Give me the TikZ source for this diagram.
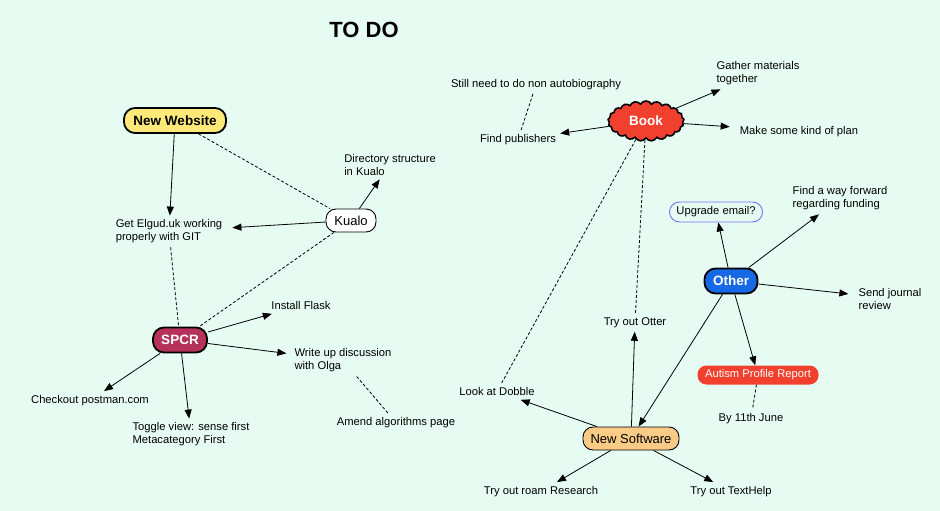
\documentclass[tikz,border=0pt]{standalone}
\usepackage{fontspec}
\setmainfont{Liberation Sans}
\usetikzlibrary{arrows.meta,shapes.symbols}
\definecolor{bg}{RGB}{230,252,243}
\definecolor{webyellow}{RGB}{253,233,120}
\definecolor{spcrred}{RGB}{181,50,90}
\definecolor{bookred}{RGB}{242,64,46}
\definecolor{otherblue}{RGB}{22,104,228}
\definecolor{softorange}{RGB}{250,203,135}
\definecolor{mailblue}{RGB}{120,110,240}
\tikzset{
  txt/.style={font=\fontsize{11.2}{13}\selectfont, align=left, inner sep=4pt, yshift=-1.5pt},
  hubbold/.style={rounded corners=11pt, draw=black, line width=1.8pt, font=\fontsize{13.5}{15}\selectfont\bfseries, inner xsep=8pt, inner ysep=5pt},
  hubplain/.style={rounded corners=10pt, draw=black, line width=0.9pt, font=\fontsize{13}{15}\selectfont, inner xsep=6pt, inner ysep=4pt},
  arr/.style={-{Triangle[length=9pt,width=7pt]}, line width=0.8pt, draw=black},
  dsh/.style={dash pattern=on 3pt off 2pt, line width=0.8pt, draw=black}
}
\begin{document}
\begin{tikzpicture}[x=1pt,y=-1pt]
\fill[bg] (0,0) rectangle (940,511);
\useasboundingbox (0,0) rectangle (940,511);

\node[font=\fontsize{22}{24}\selectfont\bfseries] (title) at (364,29.5) {TO DO};

% left cluster
\node[hubbold, fill=webyellow, minimum width=102pt, minimum height=25pt] (web) at (175,120.5) {New Website};
\node[txt] (elgud) at (169,230) {Get Elgud.uk working\\properly with GIT};
\node[hubplain, fill=white, minimum width=50pt, minimum height=23pt, inner xsep=5pt] (kualo) at (351,220.5) {Kualo};
\node[txt] (dir) at (390,163) {Directory structure\\in Kualo};
\node[hubbold, fill=spcrred, text=white, minimum width=54pt, minimum height=25pt] (spcr) at (180,340) {SPCR};
\node[txt] (flask) at (301,304) {Install Flask};
\node[txt] (olga) at (343,359) {Write up discussion\\with Olga};
\node[txt] (amend) at (396,421) {Amend algorithms page};
\node[txt] (postman) at (90,399) {Checkout postman.com};
\node[txt] (toggle) at (191,433) {Toggle view: sense first\\Metacategory First};

% book cluster
\node[txt] (still) at (536,83) {Still need to do non autobiography};
\node[txt] (pub) at (518,138) {Find publishers};
\node[cloud, cloud puffs=21, cloud puff arc=120, aspect=1.9, draw=black, line width=1.6pt, fill=bookred, text=white, font=\fontsize{13.5}{15}\selectfont\bfseries, minimum width=76pt, minimum height=40pt, inner sep=0pt] (book) at (646,121) {Book};
\node[txt] (gather) at (758,72) {Gather materials\\together};
\node[txt] (plan) at (799,130) {Make some kind of plan};

% other cluster
\node[rounded corners=10pt, draw=mailblue, line width=0.9pt, fill=bg, font=\fontsize{11.2}{13}\selectfont, minimum width=93pt, minimum height=20pt, inner sep=2pt] (mail) at (716,212) {Upgrade email?};
\node[txt] (fund) at (840,197) {Find a way forward\\regarding funding};
\node[hubbold, fill=otherblue, text=white, minimum width=53pt, minimum height=25pt] (other) at (731,281) {Other};
\node[txt] (journal) at (890,297) {Send journal\\review};
\node[rounded corners=9pt, fill=bookred, text=white, font=\fontsize{11.2}{13}\selectfont, minimum width=121pt, minimum height=19pt, inner sep=2pt] (autism) at (758,375) {Autism Profile Report};
\node[txt] (june) at (751,417) {By 11th June};

% software cluster
\node[txt] (otter) at (635,321) {Try out Otter};
\node[txt] (dobble) at (497,390) {Look at Dobble};
\node[hubplain, fill=softorange, minimum width=96pt, minimum height=23pt] (soft) at (631,438.5) {New Software};
\node[txt] (roam) at (541,490) {Try out roam Research};
\node[txt] (texthelp) at (731,490) {Try out TextHelp};

% connectors
\draw[arr] (web) -- (elgud);
\draw[dsh] (web) -- (kualo);
\draw[arr, shorten >=6pt] (kualo) -- (elgud);
\draw[arr] (kualo) -- (dir);
\draw[dsh] (kualo) -- (spcr);
\draw[dsh] (elgud) -- (spcr);
\draw[arr] (spcr) -- (flask);
\draw[arr, shorten >=4pt] (spcr) -- (olga);
\draw[arr] (spcr) -- (postman);
\draw[arr] (spcr) -- (toggle);
\draw[dsh] (olga) -- (amend);

\draw[dsh] (still) -- (pub);
\draw[arr] (book) -- (pub);
\draw[arr] (book) -- (gather);
\draw[arr, shorten >=6pt] (book) -- (plan);
\draw[dsh] (book) -- (dobble);
\draw[dsh] (book) -- (otter);

\draw[arr] (soft) -- (otter);
\draw[arr] (soft) -- (dobble);
\draw[arr] (soft) -- (roam);
\draw[arr] (soft) -- (texthelp);

\draw[arr] (other) -- (soft);
\draw[arr] (other) -- (mail);
\draw[arr] (other) -- (fund);
\draw[arr, shorten >=6pt] (other) -- (journal);
\draw[arr] (other) -- (autism);
\draw[dsh] (autism) -- (june);
\end{tikzpicture}
\end{document}
